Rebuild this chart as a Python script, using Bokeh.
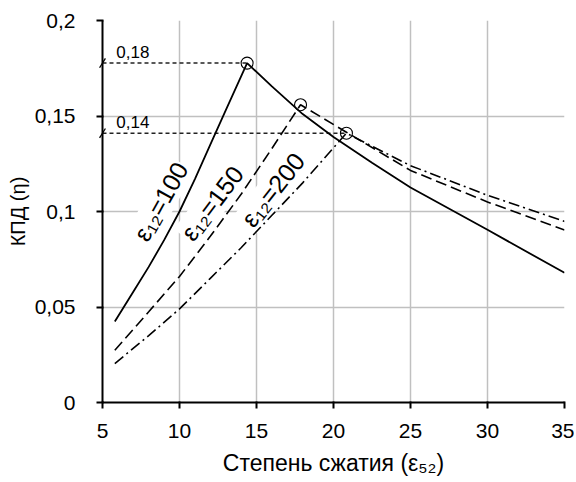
import numpy as np
from bokeh.plotting import figure
from bokeh.models import FixedTicker, Range1d, ColumnDataSource
from bokeh.core.properties import value
from bokeh.embed import file_html
from bokeh.resources import INLINE

# ---- data ----
x_ticks = [5, 10, 15, 20, 25, 30, 35]
y_ticks = [0, 0.05, 0.1, 0.15, 0.2]
y_tick_labels = ["0", "0,05", "0,1", "0,15", "0,2"]

eps100_x = [5.8, 7, 8, 9, 10, 11, 12, 13, 14.39, 16, 18, 20, 22.5, 25, 30, 35]
eps100_y = [0.0424, 0.058, 0.071, 0.085, 0.100, 0.117, 0.135, 0.153, 0.1777,
            0.1655, 0.151, 0.139, 0.1255, 0.1126, 0.0904, 0.0679]

eps150_x = [5.8, 8, 10, 12, 14, 16, 17.86, 20.84, 25, 30, 35]
eps150_y = [0.0274, 0.0475, 0.066, 0.087, 0.109, 0.133, 0.1559, 0.1415, 0.1215, 0.105, 0.0903]

eps200_x = [5.8, 8, 10, 12, 14, 16, 18, 20.84, 25, 30, 35]
eps200_y = [0.0204, 0.035, 0.049, 0.065, 0.081, 0.098, 0.115, 0.141, 0.124, 0.1085, 0.0948]

peak_x = [14.39, 17.86, 20.84]
peak_y = [0.1777, 0.1559, 0.141]

ref_y = [peak_y[0], peak_y[2]]
ref_x_end = [peak_x[0], peak_x[2]]
ref_labels = ["0,18", "0,14"]

curve_labels = ["ε₁₂=100", "ε₁₂=150", "ε₁₂=200"]

x_title = "Степень сжатия (ε₅₂)"
y_title = "КПД (η)"

# ---- layout constants ----
FONT = "Liberation Sans"
x0, x1 = 5, 35
y0, y1 = 0, 0.2

p = figure(frame_width=462, frame_height=382,
           min_border_left=102, min_border_right=10, min_border_top=20, min_border_bottom=78,
           x_range=Range1d(x0, x1), y_range=Range1d(y0, y1),
           output_backend="svg", toolbar_location=None, tools="")
p.outline_line_color = None
p.background_fill_color = "white"

# grid
for g in (p.xgrid, p.ygrid):
    g.grid_line_color = "#c0c0c0"
    g.grid_line_width = 1.5
p.xgrid.ticker = FixedTicker(ticks=x_ticks)
p.ygrid.ticker = FixedTicker(ticks=y_ticks)

# axes
p.xaxis.ticker = FixedTicker(ticks=x_ticks)
p.yaxis.ticker = FixedTicker(ticks=y_ticks)
p.yaxis.major_label_overrides = {t: s for t, s in zip(y_ticks, y_tick_labels)}
for ax in (p.xaxis, p.yaxis):
    ax.axis_line_color = "black"
    ax.axis_line_width = 2
    ax.major_tick_line_color = "black"
    ax.major_tick_line_width = 2
    ax.major_tick_out = 6
    ax.major_tick_in = 1
    ax.minor_tick_line_color = None
    ax.major_label_text_font = FONT
    ax.major_label_text_font_size = "21px"
    ax.major_label_text_color = "black"
    ax.axis_label_text_font = FONT
    ax.axis_label_text_font_style = "normal"
    ax.axis_label_text_color = "black"
p.xaxis.axis_label_text_font_size = "23px"
p.yaxis.axis_label_text_font_size = "20px"
p.xaxis.major_label_standoff = 15
p.yaxis.major_label_standoff = 21
p.xaxis.axis_label = x_title
p.yaxis.axis_label = y_title
p.xaxis.axis_label_standoff = 9
p.yaxis.axis_label_standoff = 3

# curve labels (white box behind, drawn before curves)
lab_src = ColumnDataSource(dict(
    x=[8.77, 12.12, 16.06], y=[0.1052, 0.1044, 0.1114],
    text=curve_labels, angle=list(np.radians([61, 53, 52]))))
p.text(x="x", y="y", text="text", angle="angle", source=lab_src,
       text_font=value(FONT), text_font_size="25px", text_color="black",
       text_align="center", text_baseline="middle",
       background_fill_color="white", padding=1)

# reference dashed lines
p.segment(x0=[x0] * len(ref_y), y0=ref_y, x1=ref_x_end, y1=ref_y,
          line_color="#222222", line_width=1.5, line_dash="4 3")
p.text(x=[x0 + 0.9] * 2, y=[v + 0.0058 for v in ref_y], text=ref_labels,
       text_font=value(FONT), text_font_size="17px", text_color="black",
       text_align="left", text_baseline="alphabetic")
p.scatter(x=[x0] * 2, y=ref_y, marker="dash", size=11, angle=np.radians(58),
          line_color="black", line_width=1.3, level="overlay")

# curves
p.line(eps100_x, eps100_y, line_color="black", line_width=1.8)
p.line(eps150_x, eps150_y, line_color="black", line_width=1.6, line_dash="11 5")
p.line(eps200_x, eps200_y, line_color="black", line_width=1.6, line_dash="11 4 2 4")

# peak markers
p.scatter(peak_x, peak_y, marker="circle", size=12, fill_color=None,
          line_color="black", line_width=1.1)

open("out.html", "w").write(file_html(p, INLINE))
